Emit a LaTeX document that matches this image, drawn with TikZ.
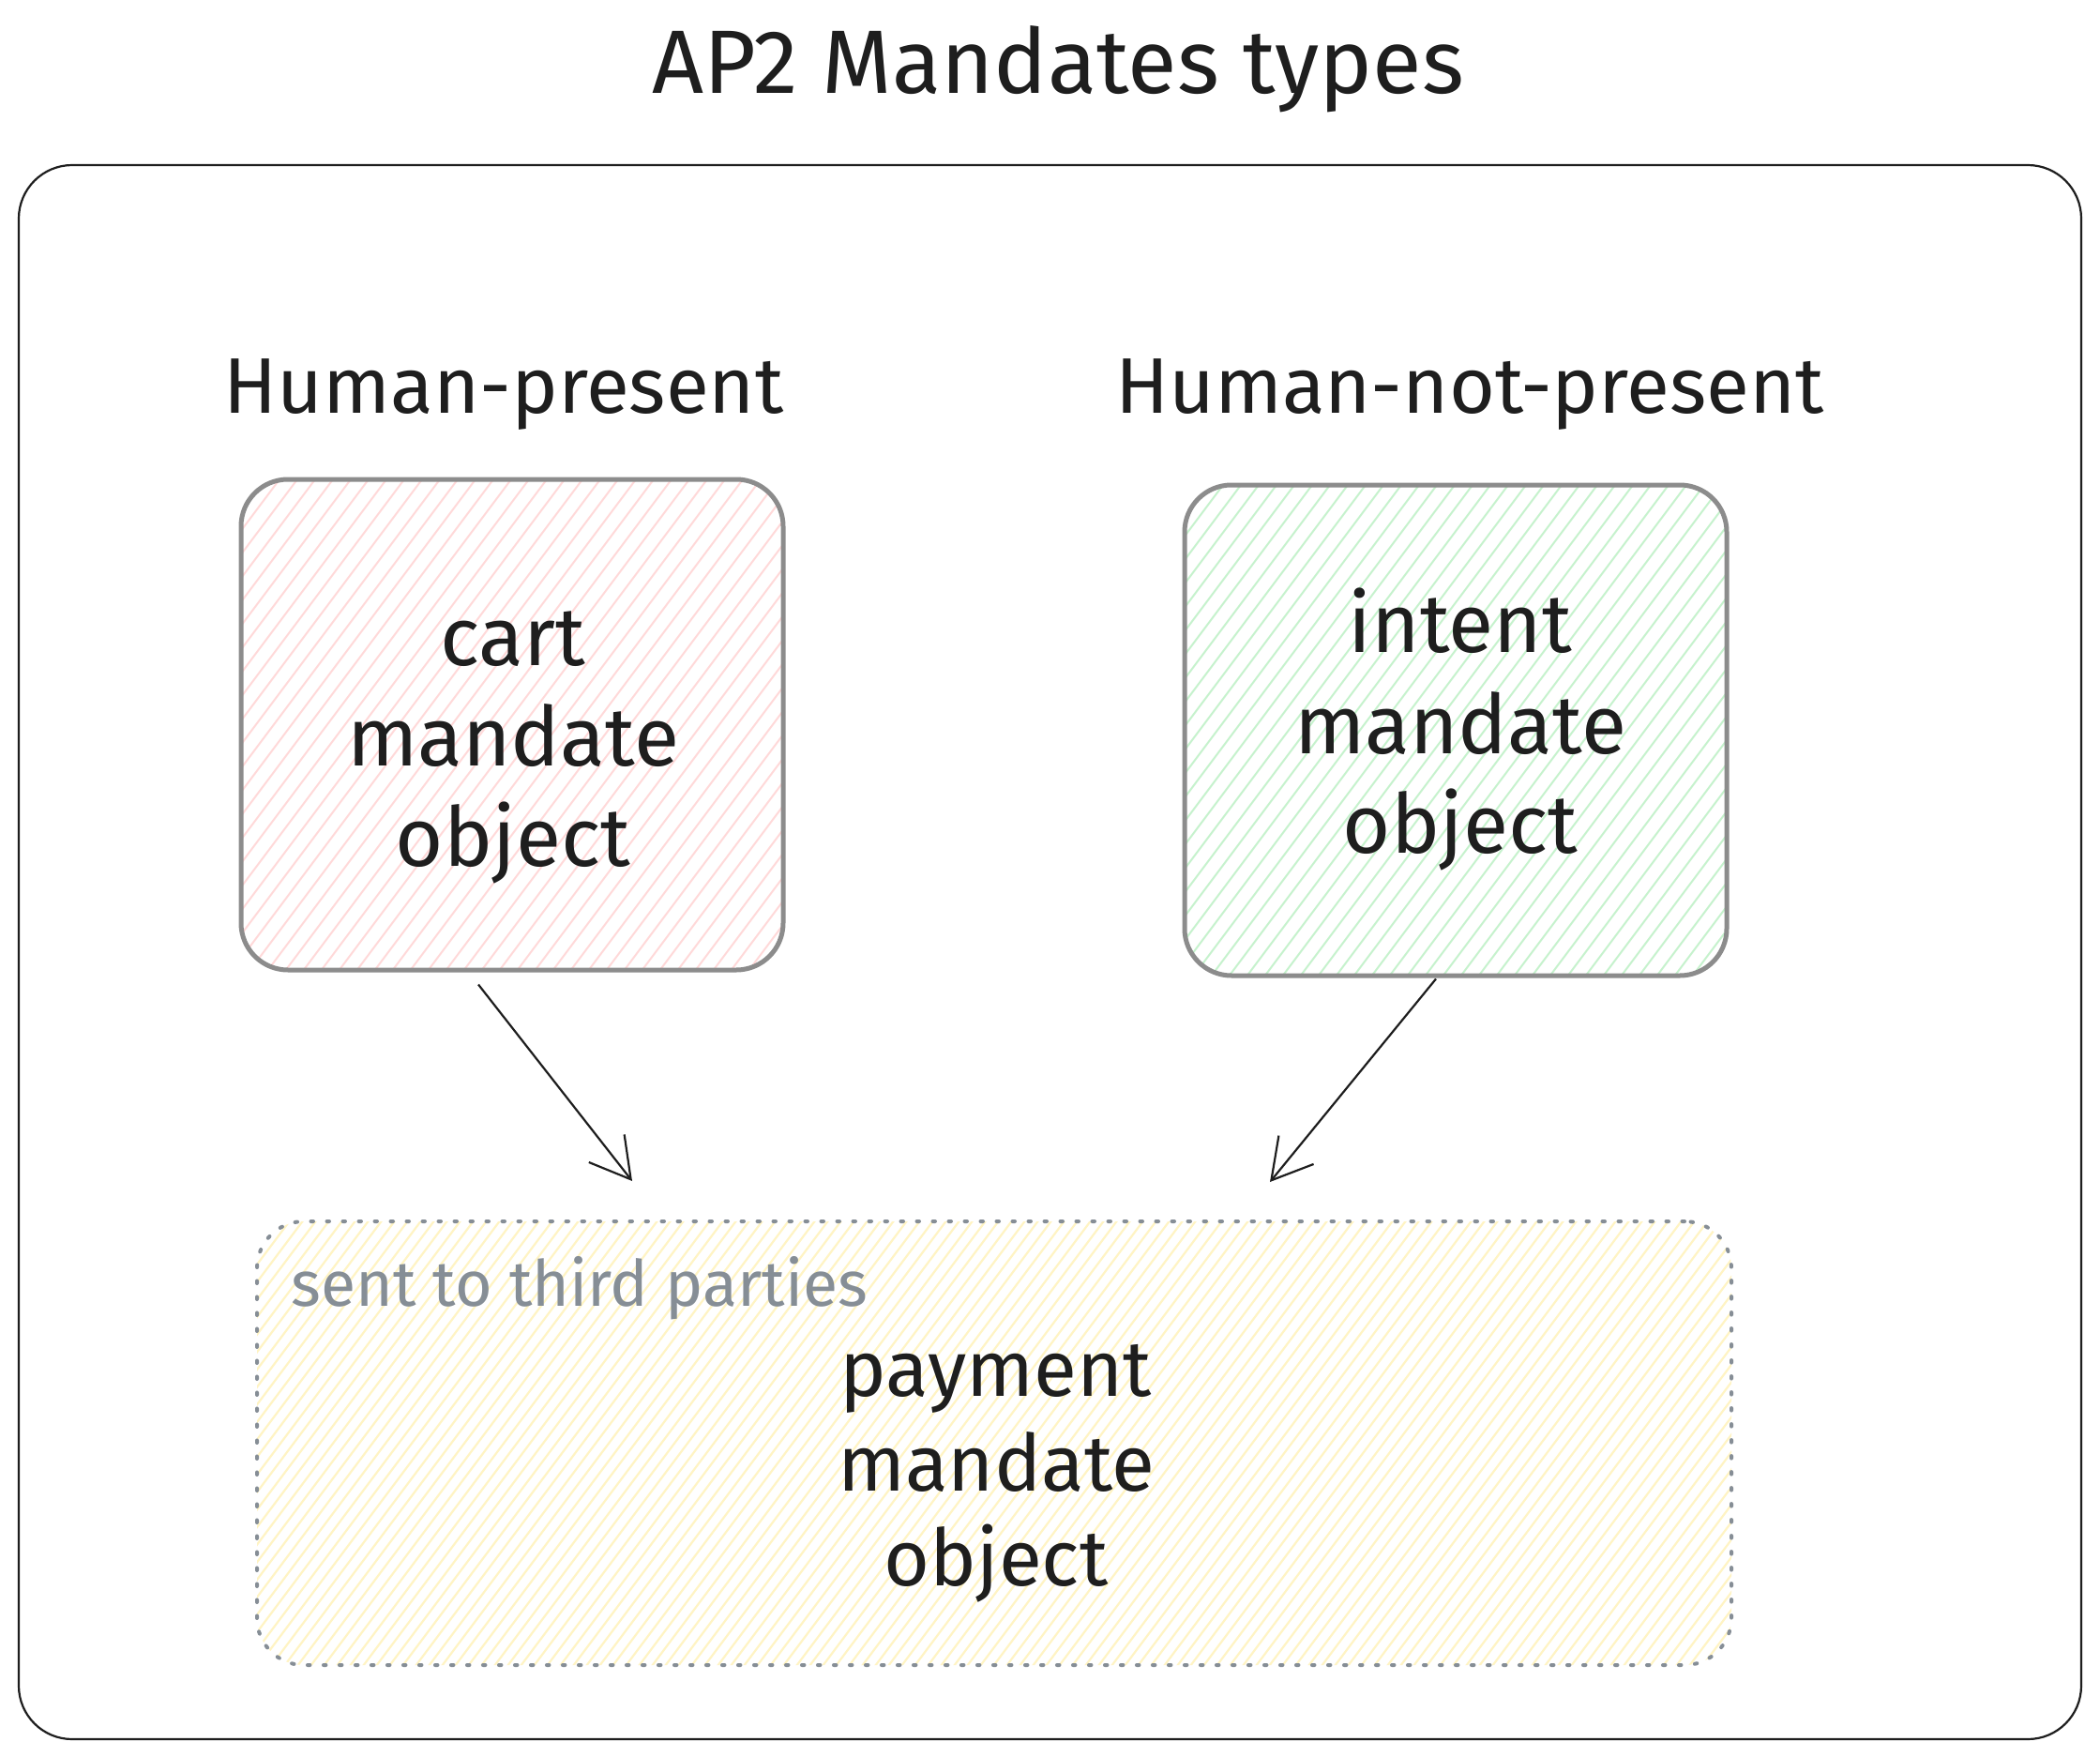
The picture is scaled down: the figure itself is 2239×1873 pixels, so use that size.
\documentclass[tikz,border=0pt]{standalone}
\usepackage{fontspec}
\setmainfont{Fira Sans}
\usetikzlibrary{arrows.meta}
\definecolor{boxgray}{HTML}{8C8C8C}
\definecolor{pinkh}{HTML}{FFD9D9}
\definecolor{greenh}{HTML}{C6F2CD}
\definecolor{yellowh}{HTML}{FFF4C4}
\definecolor{labelgray}{HTML}{868E96}
\definecolor{ink}{HTML}{1E1E1E}
\tikzset{
  hatch/.style n args={3}{path picture={
    \foreach \i in {0,...,160}{
      \draw[#1, line width=#3, solid, line cap=butt]
        ([xshift=-450pt+\i*#2, yshift=-5pt]path picture bounding box.south west)
        -- ++(450pt,600pt);
    }}},
  cardbox/.style={draw=boxgray, line width=5pt, rounded corners=50pt,
    minimum width=578pt, minimum height=523pt, inner sep=0pt},
  boxtext/.style={text=ink, align=center, font=\fontsize{88}{107}\selectfont},
  heading/.style={text=ink, anchor=base, font=\fontsize{84}{100}\selectfont},
  arr/.style={draw=ink, line width=2.2pt,
    -{Straight Barb[length=42pt, width=48pt, line width=2.2pt]}},
}
\begin{document}
\begin{tikzpicture}[x=1pt, y=-1pt]
  \useasboundingbox (0,0) rectangle (2239,1873);
  \fill[white] (0,0) rectangle (2239,1873);

  % title
  \node[heading, font=\fontsize{96}{110}\selectfont] (title) at (1128,100) {AP2 Mandates types};

  % outer frame
  \node[draw=ink, line width=2.2pt, rounded corners=57pt,
        minimum width=2199pt, minimum height=1678pt, inner sep=0pt]
        (frame) at (1119.5,1015) {};

  % headings
  \node[heading] (hp) at (537,440) {Human-present};
  \node[heading] (hnp) at (1567,440) {Human-not-present};

  % cart box
  \node[cardbox, hatch={pinkh}{19pt}{2pt}] (cart) at (546,772.5) {};
  \node[boxtext] (carttext) at (547,797) {cart\\mandate\\object};

  % intent box
  \node[cardbox, hatch={greenh}{19pt}{2pt}] (intent) at (1552,778.5) {};
  \node[boxtext] (intenttext) at (1557,778) {intent\\mandate\\object};

  % payment box
  \node[draw=labelgray, line width=4pt, line cap=round,
        dash pattern=on 2.5pt off 14.5pt, rounded corners=50pt,
        minimum width=1572pt, minimum height=473pt, inner sep=0pt,
        hatch={yellowh}{14pt}{2.2pt}] (pay) at (1060,1538.5) {};
  \node[text=labelgray, anchor=base west, font=\fontsize{68}{80}\selectfont]
        (sent) at (307,1392) {sent to third parties};
  \node[boxtext, font=\fontsize{84}{101}\selectfont] (paytext) at (1062,1571)
        {payment\\mandate\\object};

  % arrows
  \draw[arr] ([xshift=-36pt,yshift=-13pt]cart.south) -- ([xshift=-386pt,yshift=41pt]pay.north);
  \draw[arr] ([xshift=-21pt,yshift=-1pt]intent.south) -- ([xshift=294pt,yshift=40pt]pay.north);
\end{tikzpicture}
\end{document}
